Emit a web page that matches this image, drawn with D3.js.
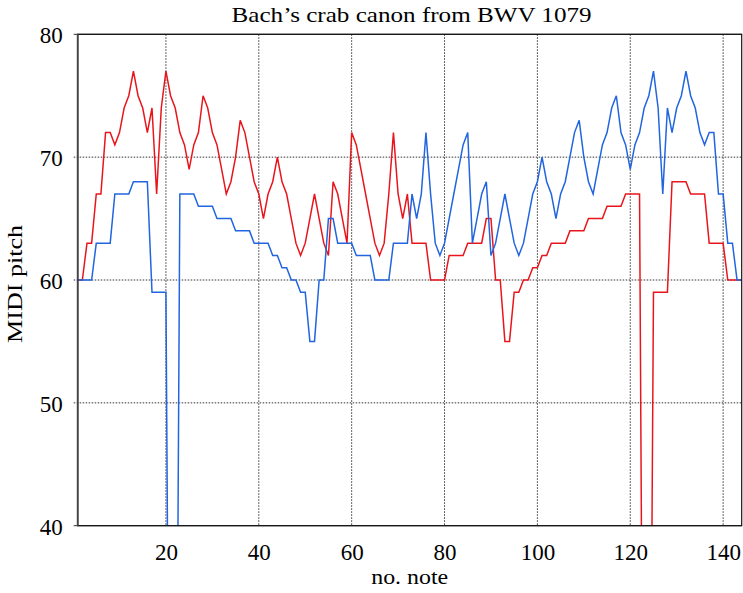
<!DOCTYPE html>
<html>
<head>
<meta charset="utf-8">
<script src="https://d3js.org/d3.v7.min.js"></script>
<style>
body{margin:0;background:#fff;}
text{font-family:"Liberation Serif","Times New Roman",serif;fill:#000;}
</style>
</head>
<body>
<div class="chart"></div>
<script>
// MIDI pitch of each note (eighth-note steps), 0 = rest
const noteNo = d3.range(1, 145);
const voiceRed = [
  60,60,63,63,67,67,72,72,71,72,
  74,75,77,75,74,72,74,67,74,77,
  75,74,72,71,69,71,72,75,74,72,
  71,69,67,68,70,73,72,70,68,67,
  65,67,68,70,68,67,65,63,62,63,
  65,67,65,63,62,68,67,65,63,72,
  71,69,67,65,63,62,63,67,72,67,
  65,67,63,63,63,63,60,60,60,60,
  62,62,62,62,63,63,63,63,65,65,
  60,60,55,55,59,59,60,60,61,61,
  62,62,63,63,63,63,64,64,64,64,
  65,65,65,65,66,66,66,66,67,67,
  67,67,0,0,59,59,59,59,68,68,
  68,68,67,67,67,67,63,63,63,63,
  60,60,60,60];
const voiceBlue = [
  60,60,60,60,63,63,63,63,67,67,
  67,67,68,68,68,68,59,59,59,59,
  0,0,67,67,67,67,66,66,66,66,
  65,65,65,65,64,64,64,64,63,63,
  63,63,62,62,61,61,60,60,59,59,
  55,55,60,60,65,65,63,63,63,63,
  62,62,62,62,60,60,60,60,63,63,
  63,63,67,65,67,72,67,63,62,63,
  65,67,69,71,72,63,65,67,68,62,
  63,65,67,65,63,62,63,65,67,68,
  70,68,67,65,67,68,70,72,73,70,
  68,67,69,71,72,74,75,72,71,69,
  71,72,74,75,77,74,67,74,72,74,
  75,77,75,74,72,71,72,72,67,67,
  63,63,60,60];
const xTicks = [20, 40, 60, 80, 100, 120, 140];
const yTicks = [40, 50, 60, 70, 80];

let margin = {top:34.3, right:1.3, left:77.7, bottom:67.3};
let outWidth = 743, outHeight = 593;
let width = outWidth - margin.left - margin.right,
    height = outHeight - margin.top - margin.bottom;

const svg = d3.select('.chart').append('svg')
    .attr("width", outWidth)
    .attr("height", outHeight);

const g = svg.append("g")
    .attr("transform", `translate(${margin.left}, ${margin.top})`);

const xScale = d3.scaleLinear().domain([1, 144]).range([0, width]);
const yScale = d3.scaleLinear().domain([40, 80]).range([height, 0]);

// grid
g.selectAll(".gx").data(xTicks).enter().append("line")
    .attr("x1", d => xScale(d)).attr("x2", d => xScale(d))
    .attr("y1", 0).attr("y2", height)
    .attr("stroke", "#333").attr("stroke-width", 1)
    .attr("stroke-dasharray", "1.5,1.5");
g.selectAll(".gy").data(yTicks).enter().append("line")
    .attr("x1", -4).attr("x2", width)
    .attr("y1", d => yScale(d)).attr("y2", d => yScale(d))
    .attr("stroke", "#333").attr("stroke-width", 1)
    .attr("stroke-dasharray", d => (d == 40 || d == 80) ? null : "1.5,1.5");

svg.append("clipPath").attr("id", "plotclip")
  .append("rect").attr("width", width).attr("height", height);

const line = d3.line()
    .x((d, i) => xScale(noteNo[i]))
    .y(d => yScale(d));

const plot = g.append("g").attr("clip-path", "url(#plotclip)");
plot.append("path").datum(voiceRed)
    .attr("d", line).attr("fill", "none")
    .attr("stroke", "#e8161c").attr("stroke-width", 1.5);
plot.append("path").datum(voiceBlue)
    .attr("d", line).attr("fill", "none")
    .attr("stroke", "#2165e0").attr("stroke-width", 1.5);

// frame
g.append("rect").attr("width", width).attr("height", height)
    .attr("fill", "none").attr("stroke", "#111").attr("stroke-width", 1.2);
g.append("line").attr("x1", 0).attr("x2", 0).attr("y1", 0).attr("y2", height)
    .attr("stroke", "#444").attr("stroke-width", 1.8);

const xAxis = d3.axisBottom(xScale).tickValues(xTicks).tickSize(0).tickPadding(17.5);
const yAxis = d3.axisLeft(yScale).tickValues(yTicks).tickSize(0).tickPadding(15);

g.append("g")
    .attr("class", "axis x-axis")
    .attr("transform", `translate(0, ${height})`)
    .call(xAxis);
g.append("g")
    .attr("class", "axis y-axis")
    .call(yAxis);
g.selectAll(".axis path").remove();
g.selectAll(".axis text")
    .style("font-family", '"Liberation Serif","Times New Roman",serif')
    .style("font-size", "23px").attr("fill", "#000");
g.selectAll(".y-axis text").attr("dy", "0.37em");

svg.append("text")
    .attr("x", 411.6).attr("y", 21.7)
    .attr("text-anchor", "middle")
    .attr("textLength", 360).attr("lengthAdjust", "spacingAndGlyphs")
    .style("font-size", "22px")
    .text("Bach’s crab canon from BWV 1079");

svg.append("text")
    .attr("x", margin.left + width / 2).attr("y", 584)
    .attr("text-anchor", "middle")
    .attr("textLength", 77).attr("lengthAdjust", "spacingAndGlyphs")
    .style("font-size", "22px")
    .text("no. note");

svg.append("text")
    .attr("transform", "translate(21.7, 284) rotate(-90)")
    .attr("text-anchor", "middle")
    .attr("textLength", 118).attr("lengthAdjust", "spacingAndGlyphs")
    .style("font-size", "22px")
    .text("MIDI pitch");
</script>
</body>
</html>
